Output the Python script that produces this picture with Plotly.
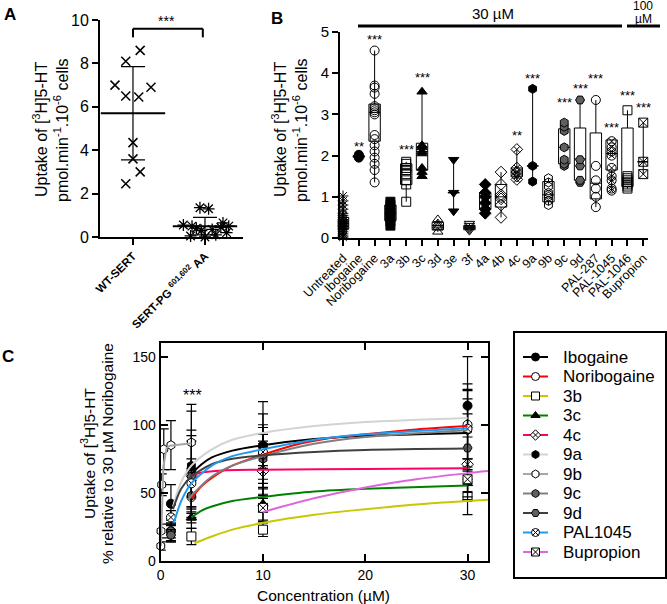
import plotly.graph_objects as go

FONT = "Liberation Sans, Arial, sans-serif"
W, H = 667, 604

# ---------------- Panel A data ----------------
a_groups = ["WT-SERT", "SERT-PG <sup>601,602</sup> AA"]
a_wt = [8.6, 8.1, 7.0, 6.9, 6.5, 6.45, 4.35, 3.6, 3.0, 2.45]
a_pg = [1.35, 1.3, 0.65, 0.55, 0.5, 0.5, 0.45, 0.4, 0.35, 0.3, 0.2, 0.1, 0.05, 0.0]
a_mean = [5.7, 0.5]
a_sd = [2.15, 0.4]
a_sig = "***"

# ---------------- Panel B data ----------------
b_cats = ["Untreated", "Ibogaine", "Noribogaine", "3a", "3b", "3c", "3d", "3e", "3f",
          "4a", "4b", "4c", "9a", "9b", "9c", "9d", "PAL-287", "PAL-1045", "PAL-1046", "Bupropion"]
b_untreated = [0.02, 0.05, 0.1, 0.15, 0.2, 0.22, 0.25, 0.28, 0.3, 0.32, 0.35, 0.38, 0.4,
               0.42, 0.45, 0.5, 0.55, 0.6, 0.7, 0.8, 0.9, 1.02]
b_ibogaine = [1.95, 1.97, 2.0, 2.02]
b_noribogaine = [1.35, 1.65, 1.8, 1.95, 2.1, 2.25, 2.4, 2.5, 3.0, 3.05, 3.1, 3.15, 3.2, 3.5, 3.65, 3.7, 4.55]
b_3a = [0.3, 0.4, 0.5, 0.55, 0.6, 0.65, 0.7, 0.8, 0.88]
b_3b = [0.88, 1.3, 1.4, 1.55, 1.65, 1.7, 1.8, 1.85]
b_3c = [1.5, 1.6, 1.7, 2.05, 2.1, 2.2, 2.25, 3.55]
b_3d = [0.15, 0.25, 0.3, 0.35, 0.45]
b_3e = [0.65, 1.1, 1.9]
b_3f = [0.18, 0.22, 0.25, 0.3, 0.35]
b_4a = [0.6, 0.7, 0.85, 1.0, 1.1, 1.3]
b_4b = [0.5, 0.8, 0.95, 1.0, 1.05, 1.3, 1.6]
b_4c = [1.42, 1.5, 1.6, 1.7, 2.15]
b_9a = [1.37, 1.75, 3.62]
b_9b = [0.8, 0.9, 1.0, 1.05, 1.1, 1.25, 1.35, 1.45]
b_9c = [1.75, 1.8, 1.9, 2.2, 2.6, 2.7, 2.8]
b_9d = [1.35, 1.4, 1.75, 1.9, 3.35]
b_pal287 = [0.75, 1.0, 1.2, 1.4, 1.75, 3.35]
b_pal1045 = [1.15, 1.2, 1.4, 1.5, 1.7, 2.0, 2.1, 2.2, 2.35]
b_pal1046 = [1.2, 1.25, 1.3, 1.35, 1.4, 1.45, 1.5, 3.1]
b_bupropion = [1.55, 1.85, 2.8]
b_points = [b_untreated, b_ibogaine, b_noribogaine, b_3a, b_3b, b_3c, b_3d, b_3e, b_3f,
            b_4a, b_4b, b_4c, b_9a, b_9b, b_9c, b_9d, b_pal287, b_pal1045, b_pal1046, b_bupropion]
b_q1 = [0.22, 1.96, 2.35, 0.42, 1.3, 1.65, 0.2, 1.1, 0.2, 0.7, 0.75, 1.5, 1.75, 0.88, 1.8, 1.4, 0.95, 1.65, 1.25, 1.85]
b_med = [0.35, 1.98, 3.05, 0.6, 1.65, 2.1, 0.3, 1.1, 0.25, 0.85, 1.0, 1.6, 1.75, 1.05, 2.2, 1.92, 1.33, 2.05, 1.45, 1.85]
b_q3 = [0.5, 2.0, 3.25, 0.8, 1.8, 2.3, 0.38, 1.1, 0.3, 1.1, 1.3, 1.7, 1.75, 1.37, 2.65, 2.67, 2.55, 2.38, 2.67, 1.85]
b_sig_cat = ["Ibogaine", "Noribogaine", "3b", "3c", "4c", "9a", "9c", "9d", "PAL-287", "PAL-1045", "PAL-1046", "Bupropion"]
b_sig_y = [2.3, 4.9, 2.23, 3.96, 2.55, 3.95, 3.35, 3.7, 3.95, 2.75, 3.53, 3.23]
b_sig_txt = ["**", "***", "***", "***", "**", "***", "***", "***", "***", "***", "***", "***"]

# ---------------- Panel C data ----------------
c_names = ["Ibogaine", "Noribogaine", "3b", "3c", "4c", "9a", "9b", "9c", "9d", "PAL1045", "Bupropion"]
conc = [0.01, 0.03, 0.1, 0.3, 1, 3, 10, 30]
N = None
ibo_y = [N, N, N, N, 42, 66, 84, 114]
ibo_sd = [N, N, N, N, 14, 30, 14, 16]
nor_y = [N, N, N, N, 22, 47, 78, 100]
nor_sd = [N, N, N, N, 8, 12, 30, 50]
c3b_y = [N, N, N, N, N, 18, 23, 47]
c3b_sd = [N, N, N, N, N, 6, 5, 13]
c3c_y = [N, N, N, N, N, 32, 42, 57]
c3c_sd = [N, N, N, N, N, 8, 12, 10]
c4c_y = [N, N, N, N, N, 63, 66, 71]
c4c_sd = [N, N, N, N, N, 25, 20, 20]
c9a_y = [N, N, N, N, 20, 70, 85, 97]
c9a_sd = [N, N, N, N, 6, 40, 32, 28]
c9b_y = [11, 22, 56, 82, 85, 87, N, N]
c9b_sd = [3, 5, 8, 15, 18, 28, N, N]
c9c_y = [N, N, N, N, 22, 48, 75, 96]
c9c_sd = [N, N, N, N, 5, 20, 18, 30]
c9d_y = [N, N, N, N, 19, 62, 78, 83]
c9d_sd = [N, N, N, N, 4, 30, 10, 25]
pal_y = [N, N, N, N, 32, 57, 80, 97]
pal_sd = [N, N, N, N, 5, 18, 20, 22]
bup_y = [N, N, N, N, N, N, 39, 60]
bup_sd = [N, N, N, N, N, N, 10, 15]

# fitted curves
ibo_fx = [3, 4, 5, 7, 10, 15, 20, 25, 30]
ibo_fy = [64, 71, 76, 81, 85, 89.5, 92, 93, 94]
nor_fx = [3, 4, 5, 7, 10, 13, 16, 20, 25, 30]
nor_fy = [46, 55, 61, 70, 78, 85, 89.5, 93, 96.5, 99]
c3b_fx = [3.3, 5, 7, 10, 15, 20, 25, 30, 32]
c3b_fy = [13, 18, 23, 28, 34, 38, 41.5, 44, 45]
c3c_fx = [3, 4, 5, 7, 10, 15, 20, 30]
c3c_fy = [32, 37, 40, 44, 47, 51, 53, 55.5]
c4c_fx = [3, 4, 6, 10, 20, 30]
c4c_fy = [63, 65, 66.5, 67, 67.5, 68]
c9a_fx = [1.2, 2, 3, 5, 7, 10, 15, 20, 30]
c9a_fy = [40, 58, 70, 82, 89, 94, 99, 102, 105]
c9b_fx = [0.03, 0.15, 0.25, 0.58, 0.9, 3]
c9b_fy = [11, 40, 69, 83, 84.6, 86.5]
c9c_fx = [2.7, 3, 5, 7, 10, 15, 20, 30]
c9c_fy = [45, 48, 62, 70, 77, 86, 91, 96]
c9d_fx = [1.2, 2, 3, 5, 7, 10, 15, 20, 30]
c9d_fy = [38, 53, 62, 71, 75, 77.5, 80, 81.5, 82.5]
pal_fx = [1.3, 2, 3, 5, 7, 10, 15, 20, 30]
pal_fy = [28, 44, 57, 70, 77, 82, 89, 93, 97.5]
bup_fx = [10, 15, 20, 25, 30, 32]
bup_fy = [36, 46, 54, 60, 64.5, 66]
c_sig_x, c_sig_y, c_sig_txt = 3.1, 124, "***"

# ---------------- styles ----------------
c_colors = ["#000000", "#ff0000", "#c8c800", "#008000", "#ff0066", "#d3d3d3",
            "#a6a6a6", "#808080", "#404040", "#1e9bf0", "#dd66dd"]
c_symbols = ["circle", "circle", "square", "triangle-up", "diamond-x", "hexagon",
             "hexagon", "hexagon", "hexagon2", "circle-x", "square-x"]
c_fills = ["black", "white", "white", "black", "white", "black",
           "white", "#606060", "#606060", "white", "white"]
b_symbols = ["asterisk-open", "circle", "circle-open", "square", "square-open", "triangle-up",
             "triangle-up-open", "triangle-down", "triangle-down-open", "diamond", "diamond-open",
             "diamond-x-open", "hexagon", "hexagon-open", "hexagon", "hexagon2", "circle-open",
             "circle-x-open", "square-open", "square-x-open"]
b_fills = ["black"] * 20
b_fills[14] = "#606060"
b_fills[15] = "#606060"
a_wt_off = [0.1, -0.1, -0.25, 0.25, -0.1, 0.08, 0.0, 0.0, 0.1, -0.1]
a_pg_off = [-0.07, 0.05, 0.25, -0.3, -0.18, 0.33, 0.22, -0.12, 0.1, -0.05, 0.3, 0.15, -0.2, 0.0]


def px(x):
    return x / W


def py(y):
    return 1 - y / H


fig = go.Figure()

# ---- Panel A ----
fig.add_trace(go.Scatter(x=[0 + o for o in a_wt_off], y=a_wt, mode="markers", xaxis="x", yaxis="y",
                         marker=dict(symbol="x-thin-open", size=9, color="black", line=dict(width=1.5, color="black")),
                         cliponaxis=False, showlegend=False))
fig.add_trace(go.Scatter(x=[1 + o for o in a_pg_off], y=a_pg, mode="markers", xaxis="x", yaxis="y",
                         marker=dict(symbol="asterisk-open", size=10, color="black", line=dict(width=1.3, color="black")),
                         cliponaxis=False, showlegend=False))
fig.add_trace(go.Scatter(x=[0, 1], y=a_mean, mode="markers", xaxis="x", yaxis="y",
                         marker=dict(symbol="line-ew", size=46, color="black", line=dict(width=2, color="black")),
                         error_y=dict(type="data", array=a_sd, width=12, thickness=1.2, color="black"),
                         cliponaxis=False, showlegend=False))

# ---- Panel B ----
fig.add_trace(go.Box(x=list(range(len(b_cats))), q1=b_q1, median=b_med, q3=b_q3,
                     lowerfence=[min(p) for p in b_points], upperfence=[max(p) for p in b_points],
                     boxpoints=False, width=0.72, whiskerwidth=0, xaxis="x2", yaxis="y2",
                     fillcolor="rgba(0,0,0,0)", line=dict(color="black", width=1), showlegend=False))
for i, pts in enumerate(b_points):
    fig.add_trace(go.Scatter(x=[i] * len(pts), y=pts, mode="markers", xaxis="x2", yaxis="y2",
                             marker=dict(symbol=b_symbols[i], size=9, color=b_fills[i],
                                         line=dict(width=1, color="black")),
                             cliponaxis=False, showlegend=False))

# ---- Panel C ----
c_y = [ibo_y, nor_y, c3b_y, c3c_y, c4c_y, c9a_y, c9b_y, c9c_y, c9d_y, pal_y, bup_y]
c_sd = [ibo_sd, nor_sd, c3b_sd, c3c_sd, c4c_sd, c9a_sd, c9b_sd, c9c_sd, c9d_sd, pal_sd, bup_sd]
c_fx = [ibo_fx, nor_fx, c3b_fx, c3c_fx, c4c_fx, c9a_fx, c9b_fx, c9c_fx, c9d_fx, pal_fx, bup_fx]
c_fy = [ibo_fy, nor_fy, c3b_fy, c3c_fy, c4c_fy, c9a_fy, c9b_fy, c9c_fy, c9d_fy, pal_fy, bup_fy]

for k in range(len(c_names)):
    xs = [c for c, v in zip(conc, c_y[k]) if v is not None]
    ys = [v for v in c_y[k] if v is not None]
    es = [e for e in c_sd[k] if e is not None]
    fig.add_trace(go.Scatter(x=xs, y=ys, mode="markers", xaxis="x3", yaxis="y3",
                             marker=dict(symbol=c_symbols[k], size=9, color=c_fills[k],
                                         line=dict(width=1, color="black")),
                             error_y=dict(type="data", array=es, width=5, thickness=1.2, color="black"),
                             cliponaxis=False, showlegend=False))
for k in range(len(c_names)):
    fig.add_trace(go.Scatter(x=c_fx[k], y=c_fy[k], mode="lines", xaxis="x3", yaxis="y3",
                             line=dict(color=c_colors[k], width=2,
                                       shape="linear" if c_names[k] == "9b" else "spline", smoothing=0.8),
                             showlegend=False))

# ---- manual legend (pixel axis) ----
for k, name in enumerate(c_names):
    yy = 357 + k * 19.5
    fig.add_trace(go.Scatter(x=[523, 548], y=[yy, yy], mode="lines", xaxis="x4", yaxis="y4",
                             line=dict(color=c_colors[k], width=2), showlegend=False, hoverinfo="skip"))
    fig.add_trace(go.Scatter(x=[535.5], y=[yy], mode="markers", xaxis="x4", yaxis="y4",
                             marker=dict(symbol=c_symbols[k], size=8, color=c_fills[k],
                                         line=dict(width=1, color="black")),
                             showlegend=False, hoverinfo="skip"))

axis_common = dict(showgrid=False, zeroline=False, showline=True, linecolor="black", linewidth=2,
                   tickcolor="black", tickwidth=2, automargin=False)

fig.update_layout(
    width=W, height=H, margin=dict(l=0, r=0, t=0, b=0, autoexpand=False),
    paper_bgcolor="white", plot_bgcolor="white",
    font=dict(family=FONT, color="black", size=14),
    boxmode="overlay",
    xaxis=dict(domain=[px(100), px(243)], anchor="y", range=[-0.458, 1.528],
               tickvals=[0, 1], ticktext=a_groups, tickangle=-45, ticks="outside", ticklen=6,
               tickfont=dict(size=11.5, weight="bold"), **axis_common),
    yaxis=dict(domain=[py(237), py(20)], anchor="x", range=[0, 10], dtick=2,
               ticks="outside", ticklen=6, tickfont=dict(size=16), **axis_common),
    xaxis2=dict(domain=[px(340), px(648)], anchor="y2", range=[-0.19, 19.3],
                tickvals=list(range(len(b_cats))), ticktext=b_cats, tickangle=-45,
                ticks="outside", ticklen=6, tickfont=dict(size=12.5), **axis_common),
    yaxis2=dict(domain=[py(238), py(32)], anchor="x2", range=[0, 5], dtick=1,
                ticks="outside", ticklen=6, tickfont=dict(size=15), **axis_common),
    xaxis3=dict(domain=[px(160.7), px(488)], anchor="y3", range=[0, 32],
                tickvals=[0, 10, 20, 30], ticks="inside", ticklen=7, mirror="ticks",
                tickfont=dict(size=14), **axis_common),
    yaxis3=dict(domain=[py(561), py(343)], anchor="x3", range=[0, 160],
                tickvals=[0, 50, 100, 150], ticks="inside", ticklen=7, mirror="ticks",
                tickfont=dict(size=14), **axis_common),
    xaxis4=dict(domain=[px(514), px(666)], anchor="y4", range=[514, 666], visible=False, automargin=False),
    yaxis4=dict(domain=[py(578), py(332)], anchor="x4", range=[578, 332], visible=False, automargin=False),
)

ann = []
# panel letters
for t, x, y in [("A", 10, 15), ("B", 277, 19), ("C", 8, 356)]:
    ann.append(dict(text="<b>%s</b>" % t, x=px(x), y=py(y), xref="paper", yref="paper",
                    showarrow=False, font=dict(size=17), xanchor="center", yanchor="middle"))
# y titles
ylab1 = "Uptake of [<sup>3</sup>H]5-HT"
ylab2 = "pmol.min<sup>-1</sup>.10<sup>-6</sup> cells"
for x, t in [(40, ylab1), (61, ylab2), (279, ylab1), (300, ylab2)]:
    ann.append(dict(text=t, x=px(x), y=py(130), xref="paper", yref="paper", textangle=-90,
                    showarrow=False, font=dict(size=16), xanchor="center", yanchor="middle"))
for x, t in [(88, ylab1), (107, "% relative to 30 µM Noribogaine")]:
    ann.append(dict(text=t, x=px(x), y=py(454), xref="paper", yref="paper", textangle=-90,
                    showarrow=False, font=dict(size=15.5), xanchor="center", yanchor="middle"))
ann.append(dict(text="Concentration (µM)", x=px(323), y=py(595), xref="paper", yref="paper",
                showarrow=False, font=dict(size=15.5), xanchor="center", yanchor="middle"))
# panel A significance (paper coords: above axis range)
ann.append(dict(text=a_sig, x=px(166), y=py(21), xref="paper", yref="paper", showarrow=False,
                font=dict(size=14), xanchor="center", yanchor="middle"))
# panel B significance
for c, yv, t in zip(b_sig_cat, b_sig_y, b_sig_txt):
    ann.append(dict(text=t, x=b_cats.index(c), y=yv, xref="x2", yref="y2", showarrow=False,
                    font=dict(size=13), xanchor="center", yanchor="middle", yshift=-3))
# B concentration bars text
ann.append(dict(text="30 µM", x=px(493), y=py(13), xref="paper", yref="paper", showarrow=False,
                font=dict(size=15), xanchor="center", yanchor="middle"))
ann.append(dict(text="100", x=px(643), y=py(6), xref="paper", yref="paper", showarrow=False,
                font=dict(size=12), xanchor="center", yanchor="middle"))
ann.append(dict(text="µM", x=px(643), y=py(19), xref="paper", yref="paper", showarrow=False,
                font=dict(size=12), xanchor="center", yanchor="middle"))
# panel C significance
ann.append(dict(text=c_sig_txt, x=c_sig_x, y=c_sig_y, xref="x3", yref="y3", showarrow=False,
                font=dict(size=16), xanchor="center", yanchor="middle", yshift=-3))
# legend text
for k, name in enumerate(c_names):
    ann.append(dict(text=name, x=561, y=357 + k * 19.5, xref="x4", yref="y4", showarrow=False,
                    font=dict(size=17), xanchor="left", yanchor="middle"))
fig.update_layout(annotations=ann)

shapes = [
    # A bracket
    dict(type="line", xref="x", yref="y", x0=0, x1=0.97, y0=9.6, y1=9.6, line=dict(color="black", width=2)),
    dict(type="line", xref="x", yref="y", x0=0, x1=0, y0=9.6, y1=9.2, line=dict(color="black", width=2)),
    dict(type="line", xref="x", yref="y", x0=0.97, x1=0.97, y0=9.6, y1=9.2, line=dict(color="black", width=2)),
    # B concentration bars
    dict(type="line", xref="paper", yref="paper", x0=px(358), x1=px(622), y0=py(26), y1=py(26),
         line=dict(color="black", width=3)),
    dict(type="line", xref="paper", yref="paper", x0=px(627), x1=px(660), y0=py(26), y1=py(26),
         line=dict(color="black", width=3)),
    # legend box
    dict(type="rect", xref="paper", yref="paper", x0=px(514), x1=px(666), y0=py(578), y1=py(332),
         line=dict(color="black", width=2)),
]
fig.update_layout(shapes=shapes)

fig.write_html("out.html", config={"displayModeBar": False},
               post_script="document.body.style.margin='0';document.body.style.padding='0';")
